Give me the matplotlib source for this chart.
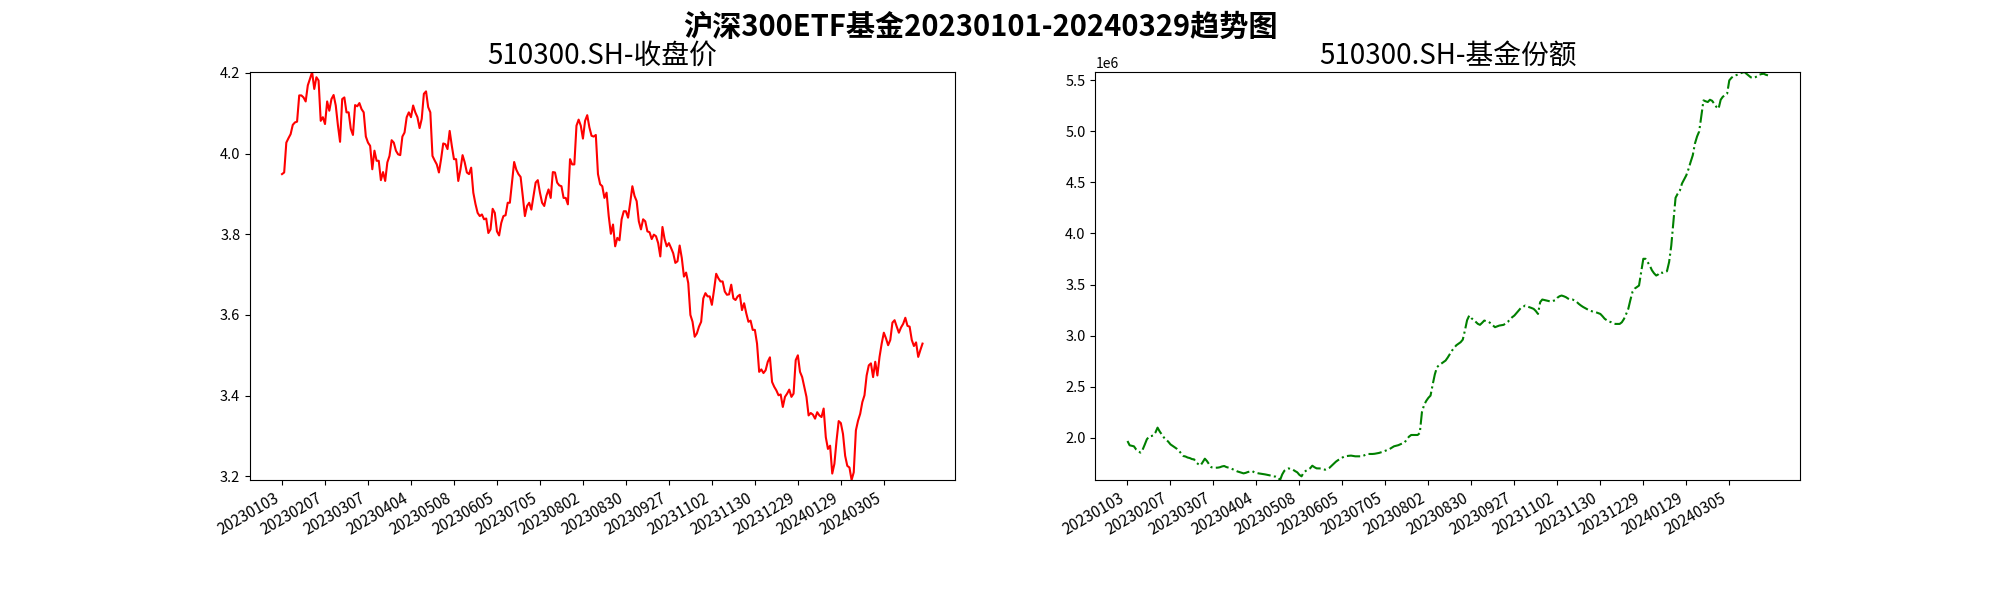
import numpy as np
import matplotlib
matplotlib.use('Agg')
from matplotlib import pyplot as plt

plt.rcParams['font.family'] = ['Noto Sans CJK SC', 'DejaVu Sans']
plt.rcParams['axes.unicode_minus'] = False

# 收盘价（交易日序列）
close = [
    3.949, 3.953, 4.027, 4.038, 4.048, 4.071, 4.077, 4.079, 4.144, 4.144,
    4.139, 4.129, 4.169, 4.185, 4.202, 4.160, 4.189, 4.181, 4.081, 4.090,
    4.073, 4.129, 4.106, 4.135, 4.145, 4.119, 4.070, 4.029, 4.135, 4.139,
    4.102, 4.102, 4.061, 4.046, 4.120, 4.117, 4.125, 4.110, 4.102, 4.042,
    4.027, 4.019, 3.961, 4.007, 3.982, 3.982, 3.934, 3.954, 3.932, 3.978,
    3.994, 4.033, 4.027, 4.007, 3.998, 3.996, 4.042, 4.052, 4.090, 4.102,
    4.090, 4.119, 4.102, 4.090, 4.063, 4.086, 4.148, 4.154, 4.115, 4.102,
    3.994, 3.983, 3.973, 3.953, 3.986, 4.025, 4.023, 4.011, 4.056, 4.019,
    3.986, 3.986, 3.932, 3.960, 3.996, 3.978, 3.953, 3.949, 3.965, 3.903,
    3.875, 3.853, 3.845, 3.849, 3.837, 3.839, 3.803, 3.812, 3.863, 3.853,
    3.807, 3.797, 3.828, 3.845, 3.847, 3.878, 3.878, 3.928, 3.979, 3.960,
    3.949, 3.942, 3.895, 3.845, 3.870, 3.878, 3.861, 3.895, 3.928, 3.934,
    3.903, 3.878, 3.870, 3.895, 3.911, 3.890, 3.954, 3.953, 3.928, 3.921,
    3.919, 3.890, 3.890, 3.874, 3.986, 3.973, 3.973, 4.069, 4.084, 4.069,
    4.037, 4.081, 4.095, 4.065, 4.044, 4.042, 4.046, 3.949, 3.924, 3.919,
    3.890, 3.903, 3.845, 3.801, 3.824, 3.770, 3.791, 3.785, 3.837, 3.857,
    3.857, 3.841, 3.878, 3.919, 3.895, 3.882, 3.832, 3.812, 3.837, 3.832,
    3.807, 3.805, 3.788, 3.799, 3.795, 3.778, 3.745, 3.818, 3.788, 3.770,
    3.778, 3.766, 3.753, 3.729, 3.733, 3.772, 3.741, 3.695, 3.705, 3.679,
    3.600, 3.583, 3.546, 3.554, 3.571, 3.583, 3.641, 3.654, 3.646, 3.646,
    3.625, 3.662, 3.702, 3.691, 3.683, 3.683, 3.658, 3.650, 3.651, 3.675,
    3.641, 3.637, 3.646, 3.650, 3.612, 3.629, 3.604, 3.583, 3.586, 3.563,
    3.563, 3.529, 3.459, 3.465, 3.456, 3.463, 3.484, 3.495, 3.434, 3.422,
    3.413, 3.401, 3.403, 3.372, 3.397, 3.405, 3.415, 3.397, 3.405, 3.488,
    3.500, 3.459, 3.446, 3.422, 3.397, 3.351, 3.357, 3.353, 3.343, 3.359,
    3.351, 3.347, 3.368, 3.297, 3.268, 3.276, 3.207, 3.231, 3.289, 3.337,
    3.332, 3.305, 3.251, 3.226, 3.222, 3.191, 3.210, 3.314, 3.338, 3.355,
    3.384, 3.401, 3.450, 3.475, 3.480, 3.446, 3.484, 3.450, 3.496, 3.529,
    3.556, 3.542, 3.525, 3.538, 3.581, 3.587, 3.571, 3.556, 3.569, 3.578,
    3.593, 3.573, 3.571, 3.538, 3.523, 3.532, 3.496, 3.513, 3.529,
]

# 基金份额
share = [
    1.967, 1.925, 1.920, 1.915, 1.885, 1.870, 1.853, 1.880, 1.930, 1.983,
    2.010, 2.015, 2.022, 2.050, 2.098, 2.060, 2.030, 2.000, 1.980, 1.960,
    1.934, 1.920, 1.905, 1.890, 1.870, 1.845, 1.820, 1.815, 1.805, 1.800,
    1.790, 1.787, 1.755, 1.740, 1.728, 1.760, 1.794, 1.770, 1.738, 1.710,
    1.706, 1.705, 1.706, 1.710, 1.718, 1.722, 1.712, 1.706, 1.700, 1.690,
    1.680, 1.670, 1.663, 1.655, 1.650, 1.655, 1.663, 1.668, 1.673, 1.660,
    1.655, 1.650, 1.647, 1.643, 1.640, 1.636, 1.632, 1.627, 1.620, 1.618,
    1.610, 1.585, 1.640, 1.676, 1.690, 1.699, 1.690, 1.686, 1.672, 1.660,
    1.635, 1.621, 1.660, 1.675, 1.686, 1.700, 1.725, 1.710, 1.699, 1.699,
    1.698, 1.690, 1.686, 1.695, 1.705, 1.725, 1.745, 1.765, 1.780, 1.791,
    1.805, 1.817, 1.820, 1.822, 1.824, 1.820, 1.817, 1.817, 1.818, 1.817,
    1.825, 1.835, 1.840, 1.840, 1.840, 1.842, 1.846, 1.850, 1.856, 1.863,
    1.872, 1.880, 1.889, 1.902, 1.915, 1.920, 1.926, 1.935, 1.945, 1.954,
    1.985, 2.010, 2.026, 2.026, 2.026, 2.026, 2.045, 2.250, 2.320, 2.360,
    2.390, 2.412, 2.520, 2.620, 2.690, 2.710, 2.725, 2.740, 2.755, 2.785,
    2.820, 2.853, 2.880, 2.905, 2.920, 2.935, 2.960, 3.050, 3.150, 3.196,
    3.170, 3.155, 3.135, 3.115, 3.105, 3.125, 3.147, 3.140, 3.135, 3.120,
    3.100, 3.082, 3.090, 3.098, 3.102, 3.105, 3.120, 3.135, 3.160, 3.180,
    3.196, 3.220, 3.245, 3.270, 3.280, 3.294, 3.285, 3.278, 3.270, 3.261,
    3.240, 3.212, 3.327, 3.353, 3.348, 3.343, 3.338, 3.333, 3.340, 3.345,
    3.370, 3.385, 3.392, 3.385, 3.376, 3.362, 3.353, 3.353, 3.345, 3.330,
    3.310, 3.294, 3.280, 3.268, 3.255, 3.245, 3.238, 3.232, 3.228, 3.220,
    3.212, 3.190, 3.165, 3.150, 3.138, 3.131, 3.120, 3.114, 3.114, 3.114,
    3.130, 3.163, 3.210, 3.261, 3.350, 3.430, 3.460, 3.475, 3.490, 3.620,
    3.752, 3.752, 3.720, 3.686, 3.640, 3.610, 3.588, 3.600, 3.621, 3.614,
    3.620, 3.630, 3.720, 3.880, 4.111, 4.350, 4.390, 4.420, 4.490, 4.530,
    4.570, 4.630, 4.700, 4.765, 4.880, 4.950, 5.000, 5.150, 5.304, 5.295,
    5.288, 5.310, 5.300, 5.271, 5.240, 5.222, 5.310, 5.340, 5.353, 5.370,
    5.500, 5.525, 5.542, 5.550, 5.556, 5.568, 5.575, 5.582, 5.565, 5.549,
    5.530, 5.523, 5.530, 5.540, 5.556, 5.562, 5.565, 5.555, 5.549,
]
share = [v * 1e6 for v in share]

tick_labels = ['20230103', '20230207', '20230307', '20230404', '20230508',
               '20230605', '20230705', '20230802', '20230830', '20230927',
               '20231102', '20231130', '20231229', '20240129', '20240305']

fig, axes = plt.subplots(1, 2, figsize=(20, 6), dpi=100)
fig.suptitle('沪深300ETF基金20230101-20240329趋势图', fontsize=21, fontweight='bold', x=0.49)

ax = axes[0]
ax.plot(np.arange(len(close)), close, color='r')
ax.set_title('510300.SH-收盘价', fontsize=20)
ax.set_ylim(min(close), max(close))
ax.set_xticks(np.arange(0, 20 * len(tick_labels), 20), tick_labels)

ax = axes[1]
ax.plot(np.arange(len(share)), share, color='g', linestyle='-.')
ax.set_title('510300.SH-基金份额', fontsize=20)
ax.set_ylim(min(share), max(share))
ax.set_xticks(np.arange(0, 20 * len(tick_labels), 20), tick_labels)

for ax in axes:
    ax.tick_params(axis='x', labelsize=11)
    ax.tick_params(axis='y', labelsize=10.5)

fig.autofmt_xdate()
plt.savefig('out.png')
